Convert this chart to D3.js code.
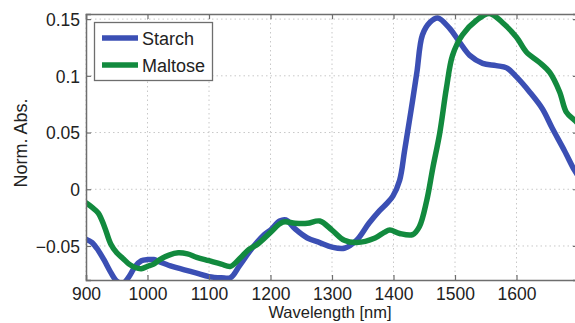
<!DOCTYPE html>
<html><head><meta charset="utf-8">
<script src="https://cdn.jsdelivr.net/npm/d3@7"></script>
<style>
html,body{margin:0;padding:0;background:#fff;}
svg{display:block;font-family:"Liberation Sans",Arial,sans-serif;}
</style></head>
<body>
<svg id="c" width="575" height="323"></svg>
<script>
const starchWl = [900,910,920,930,940,950,960,970,980,990,1000,1010,1020,1040,1060,1080,1100,1120,1135,1150,1170,1190,1200,1215,1225,1240,1260,1280,1300,1320,1340,1360,1377,1390,1399,1410,1418,1426,1431,1438,1447,1459,1472,1491,1507,1524,1545,1567,1584,1600,1621,1642,1658,1678,1694,1700];
const starchVal = [-0.044,-0.047,-0.054,-0.063,-0.073,-0.081,-0.083,-0.077,-0.068,-0.063,-0.062,-0.062,-0.064,-0.068,-0.071,-0.074,-0.077,-0.078,-0.078,-0.067,-0.052,-0.040,-0.036,-0.028,-0.027,-0.035,-0.043,-0.047,-0.051,-0.052,-0.045,-0.030,-0.019,-0.012,-0.006,0.008,0.034,0.061,0.078,0.103,0.136,0.147,0.151,0.142,0.130,0.118,0.111,0.109,0.107,0.099,0.086,0.071,0.054,0.034,0.017,0.012];
const maltoseWl = [900,910,920,930,940,950,960,970,980,990,1000,1010,1020,1035,1050,1065,1080,1100,1120,1135,1150,1165,1180,1200,1220,1240,1260,1280,1300,1320,1340,1370,1385,1394,1410,1431,1442,1454,1464,1475,1486,1496,1512,1535,1556,1577,1600,1616,1637,1654,1670,1681,1694,1700];
const maltoseVal = [-0.012,-0.016,-0.021,-0.033,-0.048,-0.056,-0.061,-0.066,-0.069,-0.070,-0.068,-0.066,-0.062,-0.058,-0.056,-0.057,-0.060,-0.063,-0.066,-0.068,-0.061,-0.053,-0.048,-0.038,-0.029,-0.030,-0.030,-0.028,-0.036,-0.045,-0.047,-0.043,-0.038,-0.036,-0.039,-0.040,-0.033,-0.010,0.019,0.049,0.089,0.118,0.136,0.149,0.155,0.147,0.134,0.121,0.112,0.103,0.086,0.068,0.061,0.058];
const xTicks = [900,1000,1100,1200,1300,1400,1500,1600];
const yTicks = [-0.05,0,0.05,0.1,0.15];
const yTickLabels = ["\u22120.05","0","0.05","0.1","0.15"];
const seriesNames = ["Starch","Maltose"];
const seriesColors = ["#3b4fb4","#128a3e"];

const svg = d3.select("#c");
const L=86, R=578, T=14, B=280;
const x = d3.scaleLinear().domain([900,1700]).range([L,R]);
const y = d3.scaleLinear().domain([-0.08,0.1545]).range([B,T]);

// grid
const g = svg.append("g");
xTicks.concat([1700]).forEach(t=>{
  g.append("line").attr("x1",x(t)).attr("x2",x(t)).attr("y1",T).attr("y2",B)
   .attr("stroke","#c8c8c8").attr("stroke-width",1).attr("stroke-dasharray","1.5,3");
});
yTicks.forEach(t=>{
  g.append("line").attr("x1",L).attr("x2",R).attr("y1",y(t)).attr("y2",y(t))
   .attr("stroke","#c8c8c8").attr("stroke-width",1).attr("stroke-dasharray","1.5,3");
});

// clip
svg.append("clipPath").attr("id","clip").append("rect")
  .attr("x",L).attr("y",T).attr("width",R-L).attr("height",B-T);

const line = d3.line().x(d=>x(d[0])).y(d=>y(d[1])).curve(d3.curveCatmullRom.alpha(0.5));
const data = [d3.zip(starchWl,starchVal), d3.zip(maltoseWl,maltoseVal)];
svg.append("g").attr("clip-path","url(#clip)")
  .selectAll("path").data(data).join("path")
  .attr("d",line).attr("fill","none")
  .attr("stroke",(d,i)=>seriesColors[i]).attr("stroke-width",5.5)
  .attr("stroke-linejoin","round").attr("stroke-linecap","round");

// axes
const axisColor="#6e6e6e";
const xb = d3.axisBottom(x).tickValues(xTicks.concat([1700])).tickSize(-5).tickFormat(d=>d===1700?"":d);
const xa = svg.append("g").attr("transform",`translate(0,${B})`).call(xb);
const xt = d3.axisTop(x).tickValues(xTicks.concat([1700])).tickSize(-5).tickFormat("");
const xta = svg.append("g").attr("transform",`translate(0,${T})`).call(xt);
const yl = d3.axisLeft(y).tickValues(yTicks).tickSize(-5).tickFormat((d,i)=>yTickLabels[i]);
const ya = svg.append("g").attr("transform",`translate(${L},0)`).call(yl);
const yr = d3.axisRight(y).tickValues(yTicks).tickSize(-5).tickFormat("");
const yra = svg.append("g").attr("transform",`translate(${R},0)`).call(yr);
[xa,xta,ya,yra].forEach(a=>{
  a.select(".domain").attr("stroke",axisColor).attr("stroke-width",1.5);
  a.selectAll(".tick line").attr("stroke",axisColor).attr("stroke-width",1.2);
  a.selectAll("text").attr("fill","#222").attr("font-size",17.5)
   .attr("font-family","'Liberation Sans',Arial,sans-serif");
});
xa.selectAll("text").attr("dy",null).attr("y",20);
ya.selectAll("text").attr("x",-6).attr("dy","0.36em");

// axis labels
svg.append("text").attr("x",(L+R)/2-2).attr("y",318).attr("text-anchor","middle")
  .attr("font-size",16.5).attr("fill","#222").text("Wavelength [nm]");
svg.append("text").attr("transform","translate(27,143) rotate(-90)").attr("text-anchor","middle")
  .attr("font-size",18).attr("fill","#222").text("Norm. Abs.");

// legend
const lg = svg.append("g");
lg.append("rect").attr("x",94.5).attr("y",22.5).attr("width",118).attr("height",58)
  .attr("fill","#fff").attr("stroke",axisColor).attr("stroke-width",1.3);
seriesNames.forEach((n,i)=>{
  const yy = 38 + i*27;
  lg.append("line").attr("x1",102).attr("x2",138).attr("y1",yy).attr("y2",yy)
    .attr("stroke",seriesColors[i]).attr("stroke-width",5.5);
  lg.append("text").attr("x",142).attr("y",yy+6.5).attr("font-size",18).attr("fill","#222").text(n);
});
</script>
</body></html>
